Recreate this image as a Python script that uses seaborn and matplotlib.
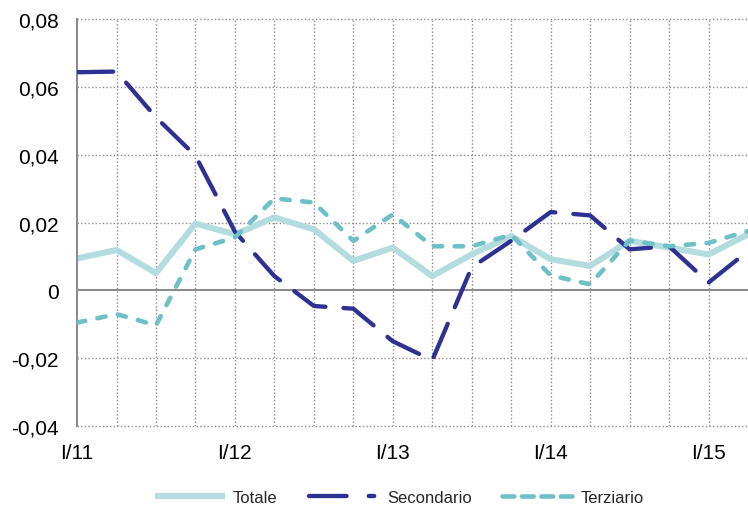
import matplotlib
matplotlib.use("Agg")
import matplotlib.pyplot as plt
from matplotlib.lines import Line2D
import seaborn as sns
import numpy as np
import pandas as pd

quarters = list(range(18))
tick_pos = [0, 4, 8, 12, 16]
tick_labels = ["I/11", "I/12", "I/13", "I/14", "I/15"]

totale = [0.0094, 0.0119, 0.0051, 0.0197, 0.0165, 0.0215, 0.0180, 0.0087,
          0.0126, 0.0042, 0.0106, 0.0160, 0.0092, 0.0072, 0.0146, 0.0126,
          0.0106, 0.0165]
secondario = [0.0643, 0.0645, 0.0510, 0.0397, 0.0173, 0.0042, -0.0046, -0.0054,
              -0.0150, -0.0206, 0.0068, 0.0146, 0.0231, 0.0221, 0.0121, 0.0130,
              0.0023, 0.0116]
terziario = [-0.0095, -0.0070, -0.0103, 0.0121, 0.0156, 0.0271, 0.0259, 0.0146,
             0.0224, 0.0130, 0.0130, 0.0164, 0.0044, 0.0018, 0.0147, 0.0130,
             0.0140, 0.0175]

sns.set_theme(style="white")
plt.rcParams['font.family'] = ['Liberation Sans', 'DejaVu Sans']
plt.rcParams['lines.scale_dashes'] = False

fig = plt.figure(figsize=(7.48, 5.06), dpi=100)
ax = fig.add_axes([0.103, 0.156, 0.897, 0.8045])

c_tot = "#b3dcdf"
c_sec = "#2e3192"
c_ter = "#6dc0c5"

grid_color = "#8c8c8c"
ax.set_axisbelow(True)
for xv in quarters[1:-1]:
    ax.axvline(xv, color=grid_color, lw=1.0, ls=(0, (1, 1.6)), zorder=0)
for yv in [-0.04, -0.02, 0.02, 0.04, 0.06, 0.08]:
    ax.axhline(yv, color=grid_color, lw=1.0, ls=(0, (1, 1.6)), zorder=0, clip_on=False)
ax.axhline(0, color="#8c8c8c", lw=1.5, zorder=1)

sns.lineplot(x=quarters, y=totale, ax=ax, color=c_tot, linewidth=4.4,
             zorder=2, solid_capstyle="butt", legend=False)
sns.lineplot(x=quarters, y=secondario, ax=ax, color=c_sec, linewidth=3.1,
             zorder=3, linestyle=(0, (26, 13)), dash_capstyle="round", legend=False)
sns.lineplot(x=quarters, y=terziario, ax=ax, color=c_ter, linewidth=3.3,
             zorder=4, linestyle=(0, (6, 9)), dash_capstyle="round", legend=False)

ax.set_xlim(0, 17)
ax.set_ylim(-0.04, 0.08)
ax.set_xticks(tick_pos)
ax.set_xticklabels(tick_labels)
yt = [-0.04, -0.02, 0, 0.02, 0.04, 0.06, 0.08]
ax.set_yticks(yt)
ax.set_yticklabels(["0" if v == 0 else f"{v:.2f}".replace(".", ",") for v in yt])
ax.tick_params(axis="both", length=0, labelsize=15, colors="black")
ax.tick_params(axis="x", pad=12)
ax.tick_params(axis="y", pad=13)
ax.set_xlabel("")
ax.set_ylabel("")

for s in ["top", "right", "bottom"]:
    ax.spines[s].set_visible(False)
ax.spines["left"].set_color("#8c8c8c")
ax.spines["left"].set_linewidth(1.5)

handles = [
    Line2D([], [], color=c_tot, lw=4.4, solid_capstyle="butt"),
    Line2D([], [], color=c_sec, lw=3.1, ls=(0, (27, 16, 4, 16)), dash_capstyle="round"),
    Line2D([], [], color=c_ter, lw=3.3, ls=(0, (8.5, 5.5)), dash_capstyle="round"),
]
fig.legend(handles, ["Totale", "Secondario", "Terziario"],
           loc="center", bbox_to_anchor=(0.534, 0.015), ncol=3, frameon=False,
           fontsize=12, handlelength=4.2, columnspacing=1.85, handletextpad=0.5,
           borderpad=0, borderaxespad=0)

fig.savefig("out.png", dpi=100)
